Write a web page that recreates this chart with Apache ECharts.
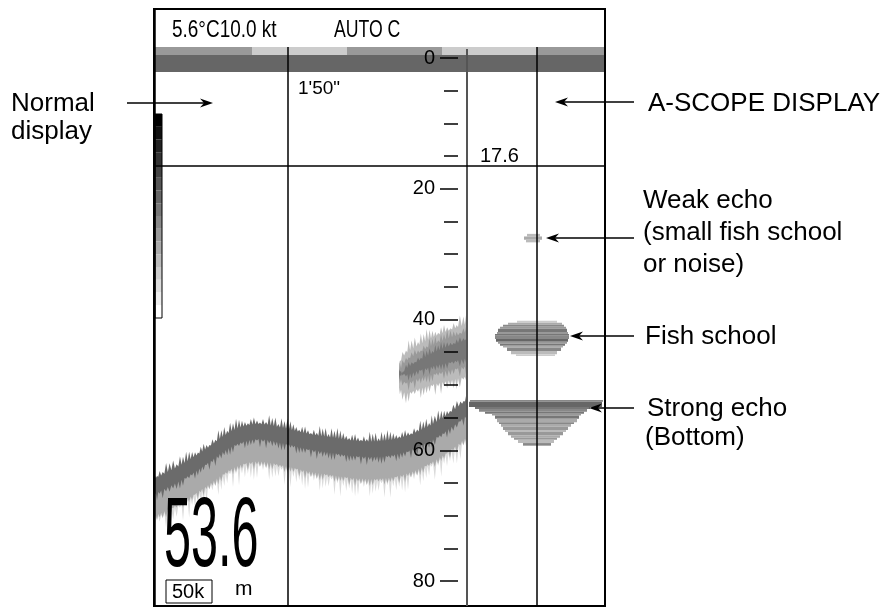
<!DOCTYPE html>
<html><head><meta charset="utf-8">
<script src="https://cdn.jsdelivr.net/npm/echarts@6/dist/echarts.min.js"></script>
<style>html,body{margin:0;padding:0;background:#fff}#c{width:889px;height:608px}</style>
</head><body><div id="c"></div>
<script>
// ---- depth scale (m) ----
const depthMin = 0, depthMax = 80, depthStep = 20;
// ---- normal display: bottom surface depth per ping ----
const bottomPing  = [0, 29, 54, 79, 103, 129, 154, 179, 204, 229, 254, 279, 296, 313];
const bottomDepth = [64.4, 62.1, 59.6, 57.0, 56.0, 56.6, 57.5, 58.1, 58.6, 58.6, 57.8, 56.0, 54.3, 52.3];
// ---- normal display: mid-water fish school ----
const schoolPing   = [245, 252, 264, 277, 290, 304, 313];
const schoolTop    = [46.8, 45.2, 44.0, 42.9, 42.0, 41.2, 40.7];
const schoolBottom = [50.4, 51.2, 50.6, 50.0, 49.5, 49.0, 48.7];
// ---- A-scope rows: depth edges (m), left/right amplitude extent, echo level (0-15) ----
const weakEdges = [26.9, 27.3, 27.8, 28.2];
const weakLeft  = [60, 57, 59];
const weakRight = [73, 75, 73];
const weakLevel = [4, 5, 4];
const fishEdges = [40.2, 40.5, 40.8, 41.1, 41.4, 41.9, 42.2, 42.5, 43.0, 43.4, 43.7, 44.0, 44.3, 44.8, 45.3, 45.6];
const fishLeft  = [50, 41, 36, 33, 31, 30, 28, 28, 29, 31, 33, 36, 40, 44, 49];
const fishRight = [90, 95, 97, 99, 100, 101, 102, 102, 101, 100, 98, 96, 94, 90, 88];
const fishLevel = [3, 5, 7, 6, 8, 6, 8, 7, 9, 6, 8, 5, 7, 4, 3];
const strongEdges = [52.3, 52.6, 53.4, 53.7, 54.1, 54.4, 54.7, 55.2, 55.7, 56.0, 56.4, 56.9, 57.2, 57.7, 58.1, 58.4, 58.9, 59.3];
const strongLeft  = [3, 2, 8, 12, 18, 25, 28, 30, 32, 34, 36, 38, 41, 44, 47, 51, 56];
const strongRight = [136, 135, 123, 120, 117, 114, 112, 110, 107, 104, 101, 99, 96, 93, 90, 87, 84];
const strongLevel = [7, 9, 8, 7, 8, 6, 8, 5, 7, 5, 6, 4, 6, 5, 6, 4, 7];
// ---- readouts / texts ----
const headerLeft = '5.6°C10.0 kt';
const headerMid = 'AUTO C';
const timeMark = "1'50\"";
const depthMarkText = '17.6';
const bigDepth = '53.6';
const freqText = '50k';
const unitText = 'm';
const scaleLevels = [15,14,13,12,11,10,9,8,7,6,5,4,3,2,1,0];

// ---------- helpers ----------
const FONT = '"Liberation Sans", Arial, Helvetica, sans-serif';
function gray(l){ const v = Math.max(0, Math.min(255, Math.round(255 - l * 17))); return 'rgb(' + v + ',' + v + ',' + v + ')'; }
const SP = [0.9,0.35,0.7,0.15,1.0,0.5,0.8,0.25,0.6,0.95,0.4,0.75,0.2,0.85,0.55,0.3,0.65];
function cr(a,b,c,d,t){ const t2=t*t, t3=t2*t; return 0.5*((2*b)+(-a+c)*t+(2*a-5*b+4*c-d)*t2+(-a+3*b-3*c+d)*t3); }
function curve(api, xs, ys){
  const pts = xs.map((x,i)=>api.coord([x, ys[i]]));
  const out = [];
  for (let i=0;i<pts.length-1;i++){
    const p0=pts[Math.max(i-1,0)], p1=pts[i], p2=pts[i+1], p3=pts[Math.min(i+2,pts.length-1)];
    const n = Math.max(2, Math.round((p2[0]-p1[0])/1.5));
    for (let k=0;k<n;k++){ const t=k/n; out.push([cr(p0[0],p1[0],p2[0],p3[0],t), cr(p0[1],p1[1],p2[1],p3[1],t)]); }
  }
  out.push(pts[pts.length-1]);
  return out;
}
function band(topPts, botPts, topOff, topSpike, botOff, botSpike, seed, color){
  const top = topPts.map((p,j)=>[p[0], p[1] + topOff - (j%2 ? SP[(j+seed)%SP.length]*topSpike : 0)]);
  const bot = botPts.map((p,j)=>[p[0], p[1] + botOff + (j%2 ? SP[(j*3+seed)%SP.length]*botSpike : 0)]).reverse();
  return {type:'polygon', shape:{points: top.concat(bot)}, style:{fill:color}};
}
function rows(edges, left, right, level){ return left.map((l,i)=>[l, right[i], edges[i], edges[i+1], level[i]]); }
const ascopeData = [].concat(rows(weakEdges, weakLeft, weakRight, weakLevel),
                             rows(fishEdges, fishLeft, fishRight, fishLevel),
                             rows(strongEdges, strongLeft, strongRight, strongLevel));

// ---------- graphic chrome ----------
const G = [];
const z = 50;
// header strip (behind the axis)
[['#999',155,252],['#ccc',252,347],['#999',347,442],['#ccc',442,537],['#999',537,605]].forEach(s=>{
  G.push({type:'rect', z:-1, shape:{x:s[1], y:47, width:s[2]-s[1], height:8}, style:{fill:s[0]}});
});
G.push({type:'rect', z:-1, shape:{x:155, y:55, width:450, height:17}, style:{fill:'#666'}});
// gray scale bar
scaleLevels.forEach((l,i)=>{
  G.push({type:'rect', z:z, shape:{x:155, y:114 + i*12.75, width:7, height:12.8}, style:{fill:gray(l)}});
});
G.push({type:'rect', z:z, shape:{x:155, y:114, width:7, height:204}, style:{fill:null, stroke:'#000', lineWidth:1}});
// frame & lines
G.push({type:'rect', z:z, shape:{x:154, y:9, width:451, height:597}, style:{fill:null, stroke:'#000', lineWidth:2}});
G.push({type:'line', z:z, shape:{x1:154.5, y1:9, x2:154.5, y2:606}, style:{stroke:'#000', lineWidth:2.5}});
G.push({type:'line', z:z, shape:{x1:288, y1:47, x2:288, y2:606}, style:{stroke:'#000', lineWidth:1.5}});
G.push({type:'line', z:z, shape:{x1:467, y1:49, x2:467, y2:606}, style:{stroke:'#555', lineWidth:2}});
G.push({type:'line', z:z, shape:{x1:537, y1:47, x2:537, y2:606}, style:{stroke:'#000', lineWidth:1.5}});
G.push({type:'line', z:z, shape:{x1:154, y1:166, x2:605, y2:166}, style:{stroke:'#000', lineWidth:1.5}});
// texts
function txt(t, x, y, size, opts){
  opts = opts || {};
  G.push(Object.assign({type:'text', z:z+1, x:x, y:y, style:{text:t, font: size+'px '+FONT, fill:'#000',
    textAlign: opts.align||'left', align: opts.align||'left', textVerticalAlign:'middle', verticalAlign:'middle'}}, opts.el||{}));
}
txt(headerLeft, 172, 30, 24, {el:{scaleX:0.79}});
txt(headerMid, 334, 30, 24, {el:{scaleX:0.735}});
txt(timeMark, 298, 89, 19);
txt(depthMarkText, 480, 156, 20);
txt(bigDepth, 164, 539, 99, {el:{scaleX:0.49}});
txt(freqText, 172, 592, 20);
G.push({type:'rect', z:z, shape:{x:166, y:580, width:46, height:23}, style:{fill:null, stroke:'#000', lineWidth:1}});
txt(unitText, 235, 589, 21);
txt('Normal', 11, 104, 26);
txt('display', 11, 132, 26);
txt('A-SCOPE DISPLAY', 648, 104, 26);
txt('Weak echo', 643, 201, 26);
txt('(small fish school', 643, 233, 26);
txt('or noise)', 643, 265, 26);
txt('Fish school', 645, 337, 26);
txt('Strong echo', 647, 409, 26);
txt('(Bottom)', 645, 438, 26);
// arrows
function arrow(x1, y, x2){
  const d = x2 > x1 ? 1 : -1;
  G.push({type:'line', z:z+2, shape:{x1:x1, y1:y, x2:x2 - d*6, y2:y}, style:{stroke:'#000', lineWidth:1.5}});
  G.push({type:'polygon', z:z+2, shape:{points:[[x2,y],[x2-d*13,y-4.5],[x2-d*9,y],[x2-d*13,y+4.5]]}, style:{fill:'#000'}});
}
arrow(127, 103, 213);
arrow(634, 102, 555);
arrow(634, 238, 546);
arrow(634, 336, 570);
arrow(634, 408, 589);

// ---------- series ----------
function renderBottom(params, api){
  if (params.dataIndex !== 0) return null;
  const m = api.size([0,1])[1];
  const pts = curve(api, bottomPing, bottomDepth);
  return {type:'group', children:[
    band(pts, pts, 5.0*m, 0, 6.0*m, 2.8*m, 3, gray(2.2)),
    band(pts, pts, 1.0*m, 0, 5.7*m, 1.2*m, 7, gray(5)),
    band(pts, pts, 0, 1.6*m, 2.3*m, 1.3*m, 0, gray(8.7))
  ]};
}
function renderSchool(params, api){
  if (params.dataIndex !== 0) return null;
  const m = api.size([0,1])[1];
  const tp = curve(api, schoolPing, schoolTop);
  const bp = curve(api, schoolPing, schoolBottom);
  return {type:'group', children:[
    band(tp, bp, 0, 1.8*m, 0, 1.8*m, 2, gray(4)),
    band(tp, bp, 1.2*m, 1.4*m, -1.6*m, 1.4*m, 5, gray(6)),
    band(tp, bp, 2.4*m, 1.2*m, -2.8*m, 1.2*m, 9, gray(8))
  ]};
}
function renderRow(params, api){
  const p0 = api.coord([api.value(0), api.value(2)]);
  const p1 = api.coord([api.value(1), api.value(3)]);
  return {type:'rect', shape:{x:p0[0], y:p0[1], width:p1[0]-p0[0], height:p1[1]-p0[1]}, style:{fill: gray(api.value(4))}};
}

const chart = echarts.init(document.getElementById('c'), null, {renderer:'canvas'});
chart.setOption({
  animation:false,
  backgroundColor:'#fff',
  grid:[
    {left:154, top:58, width:313, height:523},
    {left:467, top:58, width:138, height:523}
  ],
  xAxis:[
    {gridIndex:0, type:'value', min:0, max:313, show:false},
    {gridIndex:1, type:'value', min:0, max:138, show:false}
  ],
  yAxis:[
    {gridIndex:0, type:'value', min:depthMin, max:depthMax, interval:depthStep, inverse:true, position:'left', offset:-304, z:10,
      axisLine:{show:false},
      axisTick:{show:true, length:18, lineStyle:{color:'#000', width:1.5}},
      minorTick:{show:true, splitNumber:4, length:14, lineStyle:{color:'#000', width:1.5}},
      axisLabel:{margin:23, fontSize:20, color:'#000', fontFamily:FONT, showMinLabel:true, showMaxLabel:true},
      splitLine:{show:false}, minorSplitLine:{show:false}},
    {gridIndex:1, type:'value', min:depthMin, max:depthMax, inverse:true, show:false}
  ],
  series:[
    {type:'custom', name:'bottom', xAxisIndex:0, yAxisIndex:0, data: bottomPing.map((p,i)=>[p, bottomDepth[i]]), renderItem: renderBottom, z:2},
    {type:'custom', name:'school', xAxisIndex:0, yAxisIndex:0, data: schoolPing.map((p,i)=>[p, schoolTop[i], schoolBottom[i]]), renderItem: renderSchool, z:2},
    {type:'custom', name:'ascope', xAxisIndex:1, yAxisIndex:1, data: ascopeData, renderItem: renderRow, z:2}
  ],
  graphic: G
});
</script></body></html>
